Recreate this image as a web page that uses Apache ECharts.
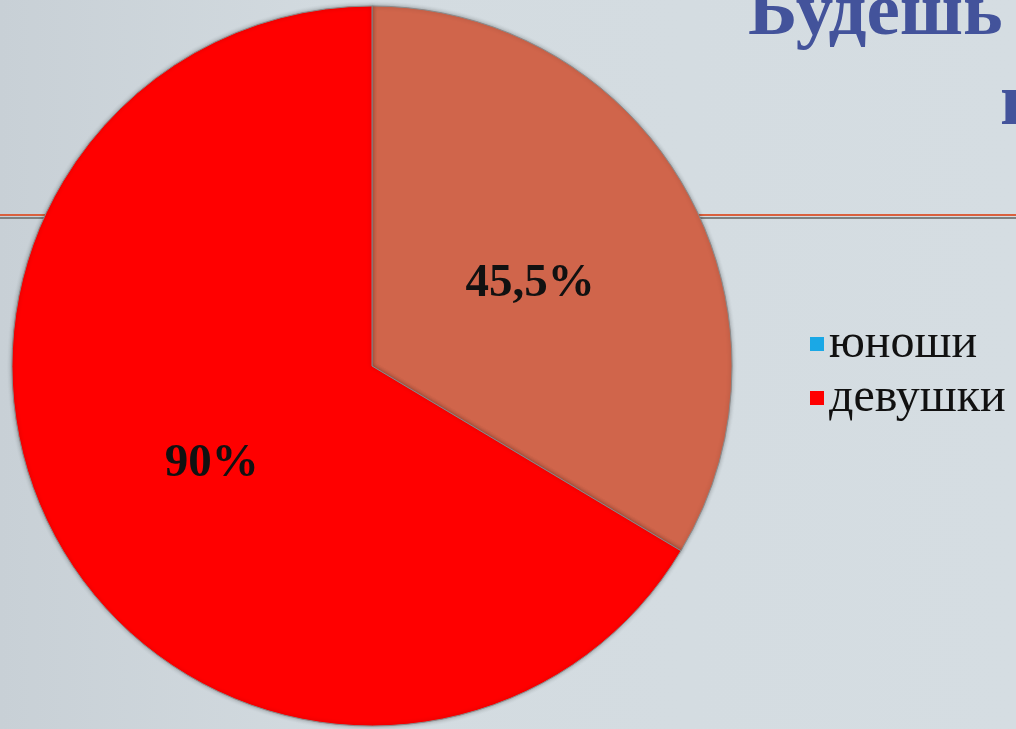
<!DOCTYPE html>
<html>
<head>
<meta charset="utf-8">
<script src="https://cdn.jsdelivr.net/npm/echarts@6/dist/echarts.min.js"></script>
<style>
  html, body { margin: 0; padding: 0; }
  #main { width: 1016px; height: 729px; }
</style>
</head>
<body>
<div id="main"></div>
<script>
// данные диаграммы
var categories = ['юноши', 'девушки'];
var values = [45.5, 90];
var labels = ['45,5%', '90%'];
var sliceColors = ['#D0654B', '#FF0000'];
var legendColors = ['#1AA8E6', '#FF0000'];

var chart = echarts.init(document.getElementById('main'));

var pieData = categories.map(function (name, i) {
    return { name: name, value: values[i], itemStyle: { color: sliceColors[i] } };
});

var option = {
    animation: false,
    backgroundColor: {
        type: 'linear', x: 0, y: 0, x2: 1, y2: 0,
        colorStops: [
            { offset: 0, color: '#C8D0D6' },
            { offset: 0.35, color: '#D3DBE0' },
            { offset: 1, color: '#D5DDE2' }
        ]
    },
    graphic: [
        // заголовок слайда (обрезан)
        { type: 'text', z: 0, style: { x: 748, y: 15, text: 'Будешь', fill: '#43539B',
            font: 'bold 75px "Liberation Serif"', textVerticalAlign: 'middle' } },
        { type: 'text', z: 0, style: { x: 1000, y: 105, text: 'п', fill: '#43539B',
            font: 'bold 75px "Liberation Serif"', textVerticalAlign: 'middle' } },
        // линия под заголовком
        { type: 'rect', z: 0, shape: { x: 0, y: 214, width: 1016, height: 2 }, style: { fill: '#D9603E' } },
        { type: 'rect', z: 0, shape: { x: 0, y: 217, width: 1016, height: 2 }, style: { fill: '#7E8283' } }
    ],
    legend: {
        orient: 'vertical',
        left: 805,
        top: 312,
        itemWidth: 14,
        itemHeight: 14,
        itemGap: 0,
        icon: 'rect',
        itemStyle: { borderWidth: 0 },
        textStyle: {
            fontFamily: 'Liberation Serif',
            fontSize: 48,
            lineHeight: 54,
            color: '#111'
        },
        data: categories.map(function (name, i) {
            return { name: name, itemStyle: { color: legendColors[i], borderWidth: 0 } };
        })
    },
    series: [{
        type: 'pie',
        center: [372, 366],
        radius: 360,
        startAngle: 90,
        clockwise: true,
        silent: true,
        itemStyle: {
            borderColor: '#8A8A8A',
            borderWidth: 1,
            shadowBlur: 4,
            shadowColor: 'rgba(0,0,0,0.3)'
        },
        label: {
            show: true,
            position: 'inside',
            formatter: function (p) { return labels[p.dataIndex]; },
            fontFamily: 'Liberation Serif',
            fontWeight: 'bold',
            fontSize: 47,
            color: '#111',
            offset: [-1, 8]
        },
        labelLine: { show: false },
        data: pieData
    }]
};

chart.setOption(option);
</script>
</body>
</html>
